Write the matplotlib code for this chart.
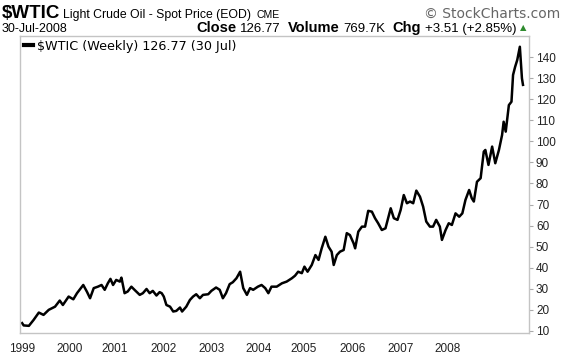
import matplotlib
matplotlib.use("Agg")
import matplotlib.pyplot as plt

# weekly-ish closes of $WTIC (decimal year, price)
years = [1999.00, 1999.03, 1999.13, 1999.22, 1999.32, 1999.41, 1999.51, 1999.63, 1999.72, 1999.78,
         1999.89, 1999.98, 2000.05, 2000.17, 2000.24, 2000.30, 2000.37, 2000.45, 2000.52, 2000.58,
         2000.64, 2000.69, 2000.74, 2000.80, 2000.87, 2000.90, 2000.96, 2001.02, 2001.09, 2001.15,
         2001.25, 2001.31, 2001.38, 2001.44, 2001.50, 2001.57, 2001.63, 2001.67, 2001.71, 2001.76,
         2001.83, 2001.89, 2001.95, 2002.02, 2002.06, 2002.14, 2002.21, 2002.27, 2002.33, 2002.40,
         2002.46, 2002.56, 2002.62, 2002.71, 2002.78, 2002.84, 2002.90, 2002.97, 2003.03, 2003.10,
         2003.17, 2003.23, 2003.30, 2003.36, 2003.42, 2003.51, 2003.58, 2003.65, 2003.71, 2003.77,
         2003.87, 2003.97, 2004.06, 2004.16, 2004.22, 2004.28, 2004.35, 2004.40, 2004.46, 2004.54,
         2004.61, 2004.67, 2004.73, 2004.80, 2004.86, 2004.92, 2004.96, 2005.02, 2005.08, 2005.15,
         2005.21, 2005.27, 2005.34, 2005.37, 2005.43, 2005.50, 2005.56, 2005.62, 2005.69, 2005.75,
         2005.81, 2005.88, 2005.95, 2006.05, 2006.11, 2006.18, 2006.24, 2006.30, 2006.36, 2006.42,
         2006.48, 2006.54, 2006.61, 2006.67, 2006.73, 2006.80, 2006.86, 2006.92, 2006.99, 2007.03,
         2007.10, 2007.16, 2007.22, 2007.29, 2007.36, 2007.42, 2007.48, 2007.55, 2007.60, 2007.64,
         2007.70, 2007.77, 2007.83, 2007.86, 2007.92, 2007.99, 2008.05, 2008.12, 2008.18, 2008.21,
         2008.25, 2008.31, 2008.36, 2008.39, 2008.43, 2008.47, 2008.52, 2008.56, 2008.58]
prices = [13.7, 12.6, 12.4, 15.2, 18.7, 17.6, 20.0, 21.5, 24.4, 22.3,
          26.3, 25.0, 27.9, 31.8, 28.6, 25.5, 30.3, 31.0, 31.8, 29.5,
          32.6, 34.7, 31.8, 34.2, 33.4, 35.3, 27.9, 28.7, 31.0, 29.5,
          27.1, 27.9, 29.9, 27.9, 29.0, 26.8, 28.4, 27.9, 26.3, 22.3,
          21.5, 19.2, 19.5, 21.1, 19.2, 21.5, 24.7, 26.3, 27.4, 25.5,
          27.1, 27.4, 29.0, 30.6, 29.5, 25.5, 27.9, 32.2, 33.1, 35.0,
          38.1, 30.3, 27.1, 30.3, 29.5, 31.0, 31.8, 30.3, 27.9, 31.0,
          31.0, 32.6, 33.4, 35.0, 36.2, 38.1, 37.4, 40.5, 38.1, 41.3,
          46.0, 43.7, 49.2, 54.7, 50.0, 47.6, 41.3, 46.0, 47.6, 48.4,
          56.4, 55.5, 51.6, 49.2, 57.1, 59.5, 59.5, 67.0, 66.6, 63.5,
          61.1, 57.9, 58.7, 68.2, 63.5, 62.7, 67.4, 74.5, 70.6, 71.4,
          70.6, 76.6, 73.7, 69.0, 61.9, 59.5, 59.5, 62.7, 59.5, 53.2,
          57.9, 61.1, 60.3, 65.8, 64.2, 65.8, 72.2, 76.9, 73.0, 71.4,
          80.8, 82.5, 95.1, 95.9, 88.8, 97.5, 89.6, 95.9, 103.0, 109.3,
          104.6, 117.2, 118.8, 131.5, 135.4, 138.6, 144.9, 129.9, 126.8]

year_labels = ["1999", "2000", "2001", "2002", "2003", "2004", "2005", "2006", "2007", "2008"]
year_ticks = [1999.0, 1999.9, 2000.77, 2001.7, 2002.62, 2003.52, 2004.39, 2005.32, 2006.24, 2007.13]
price_ticks = [10, 20, 30, 40, 50, 60, 70, 80, 90, 100, 110, 120, 130, 140]

plt.rcParams['font.family'] = ['Liberation Sans', 'DejaVu Sans']

fig = plt.figure(figsize=(5.76, 3.56), dpi=100)
ax = fig.add_axes([20 / 576, 1 - 333 / 356, 509 / 576, 297 / 356])

ax.plot(years, prices, color='black', lw=1.8, solid_joinstyle='round',
        label='\\$WTIC (Weekly) 126.77 (30 Jul)')
ax.set_xlim(1998.96, 2008.695)
ax.set_ylim(9.0, 150.0)

for s in ax.spines.values():
    s.set_color('#c4c4c4')
    s.set_linewidth(1.0)

ax.yaxis.tick_right()
ax.set_yticks(price_ticks)
ax.tick_params(axis='y', length=3, width=0.8, color='#aaaaaa', pad=2,
               labelsize=8.5, labelcolor='#222222')
ax.set_xticks(year_ticks)
ax.set_xticklabels(year_labels)
ax.tick_params(axis='x', length=0, pad=7, labelsize=8.5, labelcolor='#222222')

leg = ax.legend(loc='upper left', frameon=False, handlelength=0.7, handletextpad=0.35,
                borderaxespad=0.15, borderpad=0.15,
                prop={'family': 'DejaVu Sans', 'size': 9.2})
leg.get_lines()[0].set_linewidth(3)

# header line 1 and 2, chained piece by piece
fig.canvas.draw()
rend = fig.canvas.get_renderer()


def chain(x_px, y_px, pieces):
    for txt, size, weight, color, gap in pieces:
        t = fig.text(x_px / 576, 1 - y_px / 356, txt, fontsize=size, fontweight=weight,
                     color=color, va='baseline', ha='left')
        bb = t.get_window_extent(rend)
        x_px = bb.x1 + gap
    return x_px


chain(2, 18, [("\\$WTIC", 13.5, 'bold', 'black', 3),
              ("Light Crude Oil - Spot Price (EOD)", 8.8, 'normal', 'black', 5),
              ("CME", 7.5, 'normal', 'black', 0)])
fig.text(560 / 576, 1 - 18 / 356, "© StockCharts.com", fontsize=10, color='#666666',
         ha='right', va='baseline', family='DejaVu Sans')
fig.text(2 / 576, 1 - 32 / 356, "30-Jul-2008", fontsize=9, color='black',
         ha='left', va='baseline')
end = chain(196, 32, [("Close", 10.5, 'bold', 'black', 4),
                      ("126.77", 9.5, 'normal', 'black', 7),
                      ("Volume", 10.5, 'bold', 'black', 4),
                      ("769.7K", 9.5, 'normal', 'black', 7),
                      ("Chg", 10.5, 'bold', 'black', 4),
                      ("+3.51 (+2.85%)", 9.5, 'normal', 'black', 3)])
fig.text(end / 576, 1 - 30 / 356, "▲", fontsize=6, color='#2e8b2e', ha='left',
         va='baseline', family='DejaVu Sans')

fig.savefig("out.png", dpi=100)
